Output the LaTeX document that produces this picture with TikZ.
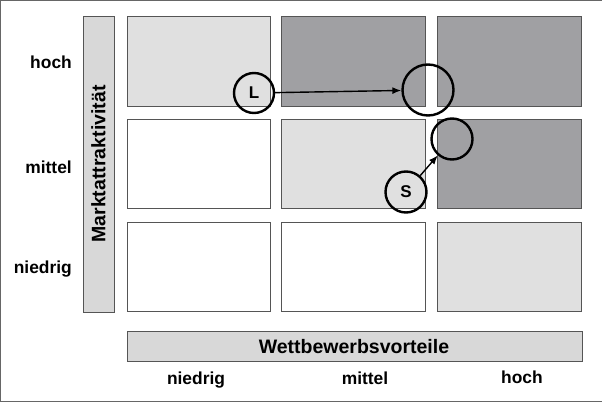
\documentclass[tikz,border=0pt]{standalone}
\usepackage{fontspec}
\setmainfont{Liberation Sans}
\usetikzlibrary{arrows.meta}
\definecolor{lightbox}{RGB}{224,224,224}
\definecolor{darkbox}{RGB}{160,160,163}
\definecolor{barfill}{RGB}{216,216,216}
\definecolor{edge}{RGB}{85,85,85}
\begin{document}
\begin{tikzpicture}[x=1pt,y=-1pt,
  cell/.style={draw=edge,line width=0.9pt},
  barbox/.style={draw=edge,line width=0.9pt,fill=barfill},
  ticklab/.style={font=\fontsize{17.4}{20}\selectfont\bfseries,inner sep=0pt},
  axislab/.style={font=\fontsize{19.5}{22}\selectfont\bfseries,inner sep=0pt},
  mark circ/.style={circle,draw=black,line width=2.4pt,inner sep=0pt},
  conn/.style={-{Latex[length=9pt,width=7pt]},line width=1.4pt,black}]
\useasboundingbox (0,0) rectangle (602,403);
\draw[line width=1.2pt,draw=gray!80!black] (602,0.5) -- (0.5,0.5) -- (0.5,401.5) -- (602,401.5);
% grid cells
\fill[lightbox] (127,16.5) rectangle (270,106); \draw[cell] (127,16.5) rectangle (270,106);
\fill[darkbox] (281,16.5) rectangle (425,106); \draw[cell] (281,16.5) rectangle (425,106);
\fill[darkbox] (437,16.5) rectangle (581.5,106); \draw[cell] (437,16.5) rectangle (581.5,106);
\fill[white] (127,119) rectangle (270,208); \draw[cell] (127,119) rectangle (270,208);
\fill[lightbox] (281,119) rectangle (425,208); \draw[cell] (281,119) rectangle (425,208);
\fill[darkbox] (437,119) rectangle (581.5,208); \draw[cell] (437,119) rectangle (581.5,208);
\fill[white] (127,222) rectangle (270,311); \draw[cell] (127,222) rectangle (270,311);
\fill[white] (281,222) rectangle (425,311); \draw[cell] (281,222) rectangle (425,311);
\fill[lightbox] (437,222) rectangle (581.5,311); \draw[cell] (437,222) rectangle (581.5,311);
% axis bars
\draw[barbox] (83,16.5) rectangle (114,312);
\node[axislab,rotate=90] (yaxis) at (98.5,164) {Marktattraktivität};
\draw[barbox] (127,331) rectangle (582,361);
\node[axislab,anchor=base] (xaxis) at (354,353) {Wettbewerbsvorteile};
% tick labels
\node[ticklab,anchor=base east] (yhoch) at (72,69) {hoch};
\node[ticklab,anchor=base east] (ymittel) at (72,174) {mittel};
\node[ticklab,anchor=base east] (yniedrig) at (72,273) {niedrig};
\node[ticklab,anchor=base] (xniedrig) at (196,384.5) {niedrig};
\node[ticklab,anchor=base] (xmittel) at (365,384.5) {mittel};
\node[ticklab,anchor=base] (xhoch) at (522,383.5) {hoch};
% markers
\node[mark circ,minimum size=40pt,font=\fontsize{17}{20}\selectfont\bfseries] (L) at (254,93) {L};
\node[mark circ,minimum size=51pt] (T1) at (428,90) {};
\node[mark circ,minimum size=41pt] (T2) at (452,139) {};
\node[mark circ,minimum size=41pt,font=\fontsize{17}{20}\selectfont\bfseries] (S) at (406,192) {S};
\draw[conn] (L) -- (T1);
\draw[conn] (S) -- (T2);
\end{tikzpicture}
\end{document}
